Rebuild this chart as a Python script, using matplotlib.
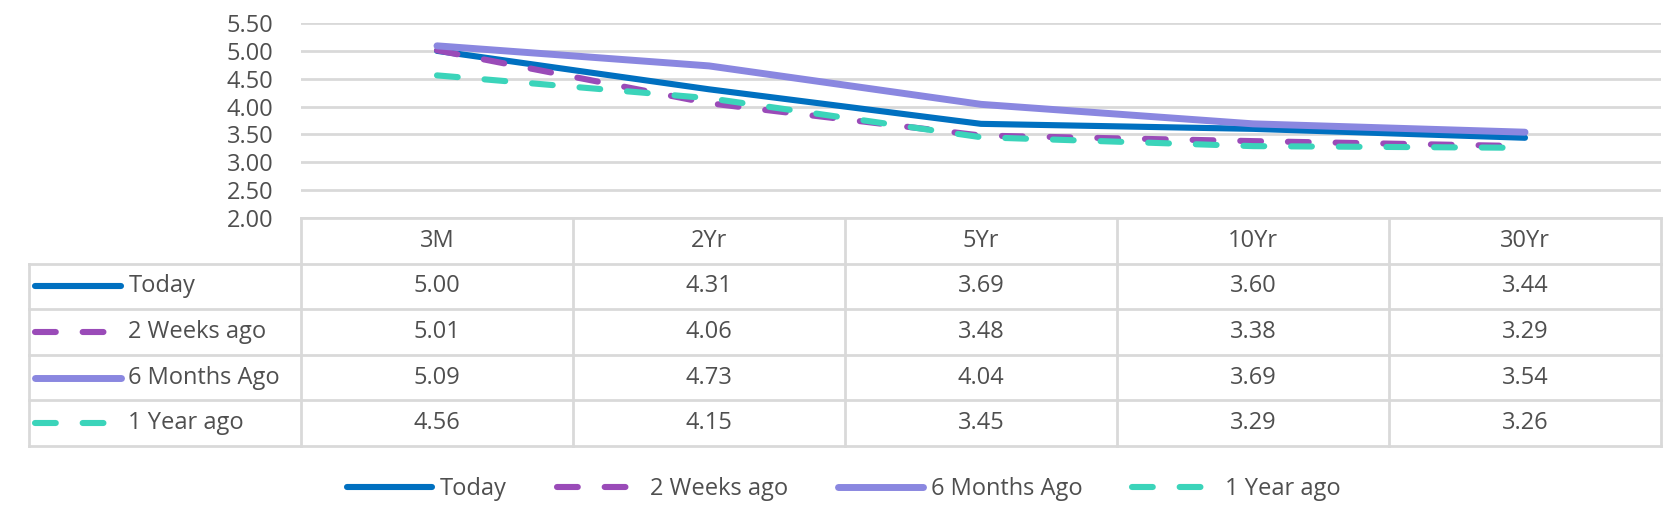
import matplotlib.pyplot as plt
from matplotlib.lines import Line2D

plt.rcParams['font.family'] = ['Open Sans', 'DejaVu Sans']

# tenors on the x axis
tenors = ['3M', '2Yr', '5Yr', '10Yr', '30Yr']

# yields per series
today = [5.00, 4.31, 3.69, 3.60, 3.44]
two_weeks = [5.01, 4.06, 3.48, 3.38, 3.29]
six_months = [5.09, 4.73, 4.04, 3.69, 3.54]
one_year = [4.56, 4.15, 3.45, 3.29, 3.26]

names = ['Today', '2 Weeks ago', '6 Months Ago', '1 Year ago']
series = [today, two_weeks, six_months, one_year]
colors = ['#0070C0', '#9A4BB8', '#8A87E0', '#3BD4BA']
widths = [4.4, 4.4, 5.0, 4.4]
dashed = [False, True, False, True]

yticks = [2.0, 2.5, 3.0, 3.5, 4.0, 4.5, 5.0, 5.5]

txt = '#4F4F4F'
grid = '#D9D9D9'
fs = 17

W, H = 1671, 508
fig = plt.figure(figsize=(W / 100, H / 100), dpi=100)

# chart area (pixel layout -> figure fractions)
x0, x1 = 301, 1661
ytop, ybot = 23, 218
ax = fig.add_axes([x0 / W, (H - ybot) / H, (x1 - x0) / W, (ybot - ytop) / H])

def style(i):
    kw = dict(color=colors[i], lw=widths[i], solid_capstyle='round',
              dash_capstyle='round')
    if dashed[i]:
        kw['dashes'] = (3.4, 4.4)
    return kw

xs = range(len(tenors))
for i, vals in enumerate(series):
    ax.plot(xs, vals, label=names[i], clip_on=False, zorder=3 + i, **style(i))

ax.set_xlim(-0.5, len(tenors) - 0.5)
ax.set_ylim(2.0, 5.5)
ax.set_yticks(yticks)
ax.set_yticklabels(['%.2f' % v for v in yticks])
ax.tick_params(axis='y', length=0, pad=20, labelsize=fs, labelcolor=txt)
ax.set_xticks([])
ax.grid(axis='y', color=grid, lw=2)
ax.set_axisbelow(True)
for s in ax.spines.values():
    s.set_visible(False)

# data table under the chart
tleft, tbot = 29, 446
tax = fig.add_axes([tleft / W, (H - tbot) / H, (x1 - tleft) / W, (tbot - ybot) / H])
tax.set_xlim(-1.5, len(tenors) - 0.5)
nrows = len(series) + 1
tax.set_ylim(nrows, 0)
tax.axis('off')

lk = dict(color=grid, lw=2, clip_on=False, solid_capstyle='projecting')
tax.plot([-0.5, len(tenors) - 0.5], [0, 0], **lk)
for r in range(1, nrows + 1):
    tax.plot([-1.5, len(tenors) - 0.5], [r, r], **lk)
tax.plot([-1.5, -1.5], [1, nrows], **lk)
for c in range(len(tenors) + 1):
    tax.plot([c - 0.5, c - 0.5], [0, nrows], **lk)

for c, t in enumerate(tenors):
    tax.text(c, 0.5, t, ha='center', va='center', fontsize=fs, color=txt)

for r, vals in enumerate(series):
    y = r + 1.5
    for c, v in enumerate(vals):
        tax.text(c, y, '%.2f' % v, ha='center', va='center', fontsize=fs, color=txt)
    tax.add_line(Line2D([-1.478, -1.16], [y, y], clip_on=False, **style(r)))
    tax.text(-1.135, y, names[r], ha='left', va='center', fontsize=fs, color=txt)

fig.legend(loc='center', bbox_to_anchor=(0.505, (H - 489) / H), ncol=4,
           frameon=False, fontsize=fs, labelcolor=txt, handlelength=3.6,
           handletextpad=0.35, columnspacing=2.1)

plt.savefig('out.png', dpi=100)
